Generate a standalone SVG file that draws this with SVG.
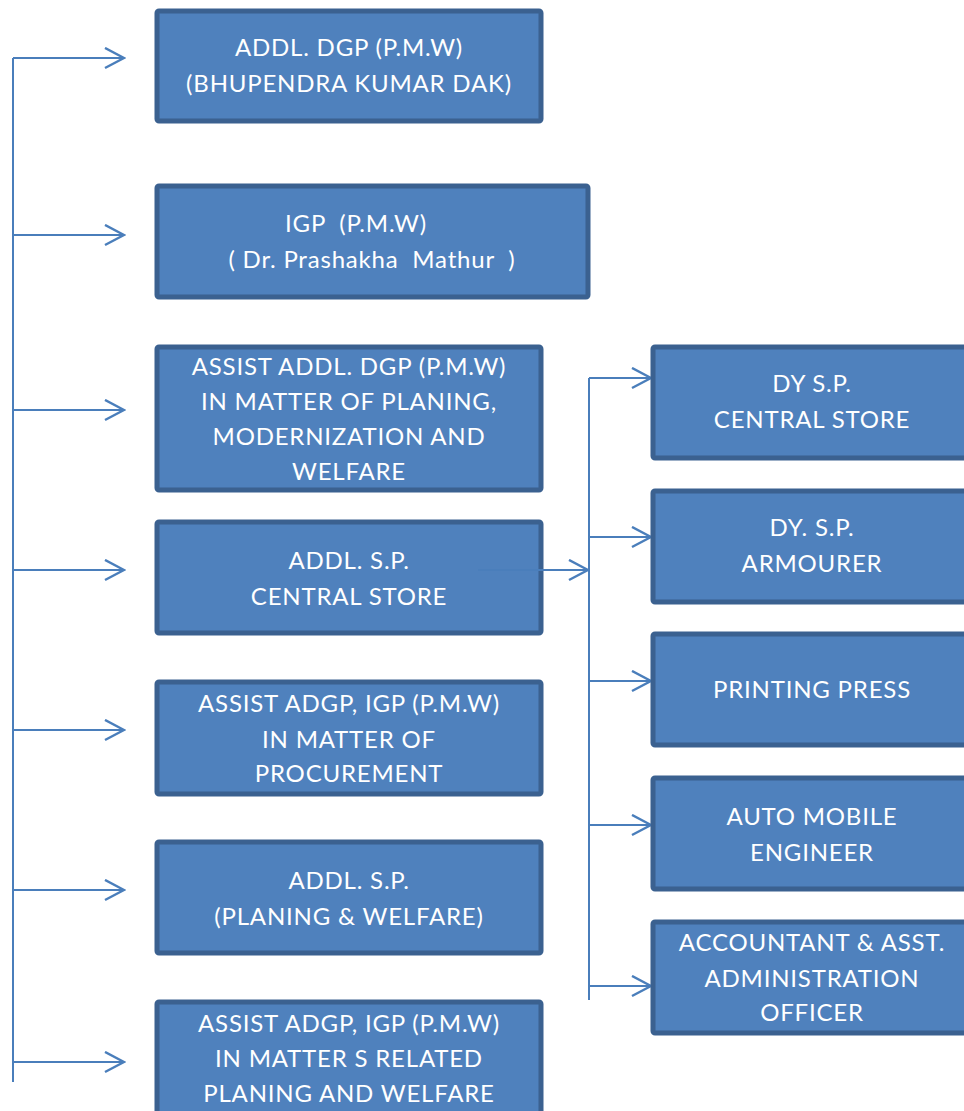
<svg xmlns="http://www.w3.org/2000/svg" width="964" height="1111" viewBox="0 0 964 1111">
<defs>
<style>
.box{fill:#4F81BD;stroke:#3B6190;stroke-width:5;}
.t{fill:#FFFFFF;font-family:Lato,"Open Sans","Liberation Sans",sans-serif;font-size:24px;letter-spacing:0.8px;text-anchor:middle;}
.c{stroke:#4A7EBB;stroke-width:2;fill:none;}
</style>
<marker id="ah" markerWidth="22" markerHeight="24" refX="20" refY="11" orient="auto" markerUnits="userSpaceOnUse">
<path d="M1,1 L20,11 L1,21" fill="none" stroke="#4A7EBB" stroke-width="2.5"/>
</marker>
</defs>
<g id="connectors">
<path class="c" d="M13,58 V1082"/>
<path class="c" d="M13,58 H124" marker-end="url(#ah)"/>
<path class="c" d="M13,235 H124" marker-end="url(#ah)"/>
<path class="c" d="M13,410 H124" marker-end="url(#ah)"/>
<path class="c" d="M13,570 H124" marker-end="url(#ah)"/>
<path class="c" d="M13,730 H124" marker-end="url(#ah)"/>
<path class="c" d="M13,890 H124" marker-end="url(#ah)"/>
<path class="c" d="M13,1062 H124" marker-end="url(#ah)"/>
<path class="c" d="M589,378 V1000"/>
<path class="c" d="M589,378 H651" marker-end="url(#ah)"/>
<path class="c" d="M589,537 H651" marker-end="url(#ah)"/>
<path class="c" d="M589,681 H651" marker-end="url(#ah)"/>
<path class="c" d="M589,825 H651" marker-end="url(#ah)"/>
<path class="c" d="M589,986 H651" marker-end="url(#ah)"/>
</g>
<g id="n1"><rect class="box" x="157" y="11" width="384" height="110" rx="2"/>
<text class="t" x="349" y="56">ADDL. DGP (P.M.W)</text><text class="t" x="349" y="92">(BHUPENDRA KUMAR DAK)</text></g>
<g id="n2"><rect class="box" x="157" y="186" width="431" height="111" rx="2"/>
<text class="t" x="356" y="232" xml:space="preserve">IGP  (P.M.W)</text><text class="t" x="372" y="268" xml:space="preserve">( Dr. Prashakha  Mathur  )</text></g>
<g id="n3"><rect class="box" x="157" y="347" width="384" height="143" rx="2"/>
<text class="t" x="349" y="375">ASSIST ADDL. DGP (P.M.W)</text><text class="t" x="349" y="410">IN MATTER OF PLANING,</text><text class="t" x="349" y="445">MODERNIZATION AND</text><text class="t" x="349" y="480">WELFARE</text></g>
<g id="n4"><rect class="box" x="157" y="522" width="384" height="111" rx="2"/>
<text class="t" x="349" y="569">ADDL. S.P.</text><text class="t" x="349" y="605">CENTRAL STORE</text></g>
<g id="n5"><rect class="box" x="157" y="682" width="384" height="112" rx="2"/>
<text class="t" x="349" y="712">ASSIST ADGP, IGP (P.M.W)</text><text class="t" x="349" y="748">IN MATTER OF</text><text class="t" x="349" y="782">PROCUREMENT</text></g>
<g id="n6"><rect class="box" x="157" y="842" width="384" height="111" rx="2"/>
<text class="t" x="349" y="889">ADDL. S.P.</text><text class="t" x="349" y="925">(PLANING &amp; WELFARE)</text></g>
<g id="n7"><rect class="box" x="157" y="1002" width="384" height="120" rx="2"/>
<text class="t" x="349" y="1032">ASSIST ADGP, IGP (P.M.W)</text><text class="t" x="349" y="1067">IN MATTER S RELATED</text><text class="t" x="349" y="1102">PLANING AND WELFARE</text></g>
<path class="c" d="M478,570 H588" marker-end="url(#ah)"/>
<g id="r1"><rect class="box" x="653" y="347" width="320" height="111" rx="2"/>
<text class="t" x="812" y="392">DY S.P.</text><text class="t" x="812" y="428">CENTRAL STORE</text></g>
<g id="r2"><rect class="box" x="653" y="491" width="320" height="111" rx="2"/>
<text class="t" x="812" y="536">DY. S.P.</text><text class="t" x="812" y="572">ARMOURER</text></g>
<g id="r3"><rect class="box" x="653" y="634" width="320" height="111" rx="2"/>
<text class="t" x="812" y="698">PRINTING PRESS</text></g>
<g id="r4"><rect class="box" x="653" y="778" width="320" height="111" rx="2"/>
<text class="t" x="812" y="825">AUTO MOBILE</text><text class="t" x="812" y="861">ENGINEER</text></g>
<g id="r5"><rect class="box" x="653" y="922" width="320" height="111" rx="2"/>
<text class="t" x="812" y="951">ACCOUNTANT &amp; ASST.</text><text class="t" x="812" y="987">ADMINISTRATION</text><text class="t" x="812" y="1021">OFFICER</text></g>
</svg>
